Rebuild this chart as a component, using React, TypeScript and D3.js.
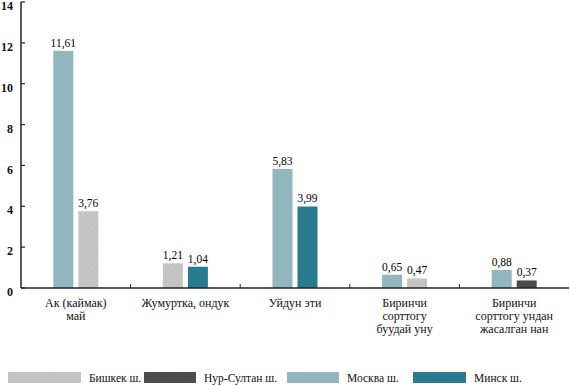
import { useEffect, useRef } from "react";
import { scaleLinear, scaleBand, select, range } from "d3";

const WIDTH = 570;
const HEIGHT = 385;
const MARGIN = { top: 2, right: 1, bottom: 97, left: 21 };

const CATEGORIES = [
  ["Ак (каймак)", "май"],
  ["Жумуртка,  ондук"],
  ["Уйдун эти"],
  ["Биринчи", "сорттогу", "буудай уну"],
  ["Биринчи", "сорттогу ундан", "жасалган нан"],
];

const SERIES = ["Бишкек ш.", "Нур-Султан ш.", "Москва ш.", "Минск ш."];

// which two cities are shown in each group, and their values
const GROUP_SERIES = [
  ["Москва ш.", "Бишкек ш."],
  ["Бишкек ш.", "Минск ш."],
  ["Москва ш.", "Минск ш."],
  ["Москва ш.", "Бишкек ш."],
  ["Москва ш.", "Нур-Султан ш."],
];
const GROUP_VALUES = [
  [11.61, 3.76],
  [1.21, 1.04],
  [5.83, 3.99],
  [0.65, 0.47],
  [0.88, 0.37],
];

const Y_TICKS = [0, 2, 4, 6, 8, 10, 12, 14];

const FILLS: Record<string, string> = {
  "Бишкек ш.": "url(#dotsLight)",
  "Нур-Султан ш.": "url(#dotsDark)",
  "Москва ш.": "#92b6bd",
  "Минск ш.": "#287b8f",
};

const FONT = "Liberation Serif, DejaVu Serif, serif";

export default function App() {
  const svgRef = useRef<SVGSVGElement>(null);

  useEffect(() => {
    const svg = select(svgRef.current);
    svg.selectAll("*").remove();

    const innerW = WIDTH - MARGIN.left - MARGIN.right;
    const innerH = HEIGHT - MARGIN.top - MARGIN.bottom;

    // stipple patterns for the gray bars
    const defs = svg.append("defs");
    const addDots = (id: string, base: string, dot: string) => {
      const p = defs
        .append("pattern")
        .attr("id", id)
        .attr("width", 5)
        .attr("height", 5)
        .attr("patternUnits", "userSpaceOnUse");
      p.append("rect").attr("width", 5).attr("height", 5).attr("fill", base);
      p.append("rect").attr("x", 1).attr("y", 0).attr("width", 1).attr("height", 1).attr("fill", dot);
      p.append("rect").attr("x", 3).attr("y", 3).attr("width", 1).attr("height", 1).attr("fill", dot);
    };
    addDots("dotsLight", "#c3c3c3", "#d0d0d0");
    addDots("dotsDark", "#4b4b4b", "#575757");

    const g = svg
      .append("g")
      .attr("transform", `translate(${MARGIN.left},${MARGIN.top})`);

    const x = scaleBand<number>()
      .domain(range(CATEGORIES.length))
      .range([0, innerW]);
    const inner = scaleBand<number>().domain([0, 1]).range([0, 45]).paddingInner(0.2);
    const y = scaleLinear().domain([0, 14]).range([innerH, 0]);

    // bars + value labels
    GROUP_VALUES.forEach((vals, gi) => {
      const gx = (x(gi) ?? 0) + x.bandwidth() / 2 - 22.5;
      vals.forEach((v, bi) => {
        const bx = gx + (inner(bi) ?? 0);
        g.append("rect")
          .attr("x", bx)
          .attr("y", y(v))
          .attr("width", inner.bandwidth())
          .attr("height", innerH - y(v))
          .attr("fill", FILLS[GROUP_SERIES[gi][bi]]);
        g.append("text")
          .attr("x", bx + inner.bandwidth() / 2)
          .attr("y", y(v) - 4)
          .attr("text-anchor", "middle")
          .attr("font-family", FONT)
          .attr("font-size", "11.5px")
          .attr("fill", "#000")
          .text(v.toFixed(2).replace(".", ","));
      });
    });

    // y axis
    g.append("line")
      .attr("x1", 0).attr("x2", 0)
      .attr("y1", y(14)).attr("y2", innerH)
      .attr("stroke", "#222").attr("stroke-width", 1.5);
    Y_TICKS.forEach((t) => {
      g.append("line")
        .attr("x1", 0).attr("x2", 4)
        .attr("y1", y(t)).attr("y2", y(t))
        .attr("stroke", "#222").attr("stroke-width", 1.2);
      g.append("text")
        .attr("x", -8)
        .attr("y", y(t) + 4)
        .attr("dy", "0.35em")
        .attr("text-anchor", "end")
        .attr("font-family", FONT)
        .attr("font-weight", "bold")
        .attr("font-size", "12px")
        .attr("fill", "#111")
        .text(t);
    });

    // x axis
    g.append("line")
      .attr("x1", 0).attr("x2", innerW)
      .attr("y1", innerH).attr("y2", innerH)
      .attr("stroke", "#222").attr("stroke-width", 1.5);
    range(1, CATEGORIES.length).forEach((i) => {
      const tx = x(i) ?? 0;
      g.append("line")
        .attr("x1", tx).attr("x2", tx)
        .attr("y1", innerH).attr("y2", innerH - 4)
        .attr("stroke", "#222").attr("stroke-width", 1);
    });

    // category labels
    CATEGORIES.forEach((lines, i) => {
      const t = g.append("text")
        .attr("x", (x(i) ?? 0) + x.bandwidth() / 2)
        .attr("y", innerH + 19)
        .attr("text-anchor", "middle")
        .attr("font-family", FONT)
        .attr("font-size", "12px")
        .attr("fill", "#111");
      lines.forEach((ln, li) => {
        t.append("tspan")
          .attr("x", (x(i) ?? 0) + x.bandwidth() / 2)
          .attr("dy", li === 0 ? 0 : 13)
          .text(ln);
      });
    });

    // legend
    const legendX = [8, 144, 287, 413];
    const legendW = [73, 52, 52, 53];
    SERIES.forEach((s, i) => {
      svg.append("rect")
        .attr("x", legendX[i])
        .attr("y", 372)
        .attr("width", legendW[i])
        .attr("height", 11)
        .attr("fill", FILLS[s]);
      svg.append("text")
        .attr("x", legendX[i] + legendW[i] + 8)
        .attr("y", 377.5)
        .attr("dy", "0.35em")
        .attr("font-family", FONT)
        .attr("font-size", "11.5px")
        .attr("fill", "#111")
        .text(s);
    });
  }, []);

  return (
    <svg
      ref={svgRef}
      width={WIDTH}
      height={HEIGHT}
      style={{ position: "absolute", left: 0, top: 0, background: "#fff" }}
    />
  );
}
